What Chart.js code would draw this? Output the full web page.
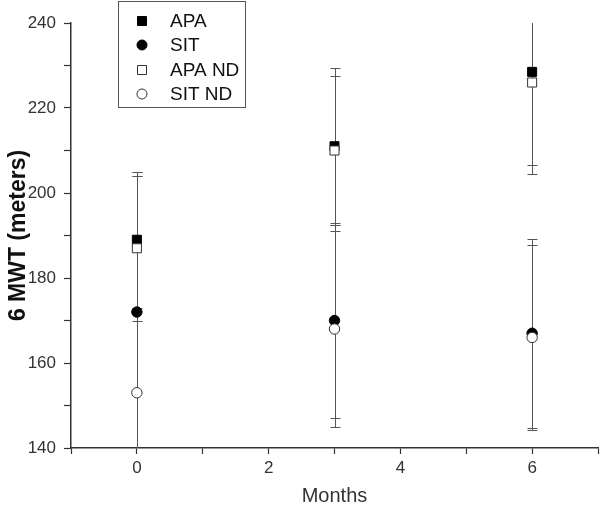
<!DOCTYPE html>
<html><head><meta charset="utf-8">
<script src="https://cdn.jsdelivr.net/npm/chart.js@4.4.1/dist/chart.umd.min.js"></script>
<style>html,body{margin:0;padding:0;background:#fff}</style>
</head><body>
<canvas id="c" width="600" height="512"></canvas>
<script>
const months = [0, 3, 6];
const seriesNames = ['APA', 'SIT', 'APA ND', 'SIT ND'];
const apa = [189, 211, 228.5];
const apaErr = [16, 18.5, 22];
const sit = [172, 170, 167];
const sitErr = [33, 23, 22.2];
const apaNd = [187, 210, 226];
const apaNdErr = [17, 17.5, 21.5];
const sitNd = [153, 168, 166];
const sitNdErr = [51, 23, 21.7];
const xTicks = [0, 2, 4, 6];
const yTicks = [140, 160, 180, 200, 220, 240];

const FONT = '"Liberation Sans", Arial, sans-serif';
const pts = vals => vals.map((v, i) => ({x: months[i], y: v}));

function mkDs(label, vals, errs, style, filled, order) {
  return {
    label, data: pts(vals), errors: errs,
    pointStyle: style,
    pointRadius: style === 'rect' ? 6.4 : 5.2,
    pointHoverRadius: style === 'rect' ? 6.4 : 5.2,
    backgroundColor: filled ? '#000' : '#fff',
    borderColor: filled ? '#000' : '#333',
    borderWidth: 1,
    showLine: false,
    order
  };
}

const errorBars = {
  id: 'errorBars',
  beforeDatasetsDraw(chart) {
    const {ctx, chartArea, scales: {x, y}} = chart;
    ctx.save();
    ctx.beginPath();
    ctx.rect(chartArea.left, chartArea.top, chartArea.width, chartArea.height);
    ctx.clip();
    ctx.strokeStyle = '#555';
    ctx.lineWidth = 1;
    chart.data.datasets.forEach(ds => {
      ds.data.forEach((p, i) => {
        const e = ds.errors[i];
        const px = Math.round(x.getPixelForValue(p.x)) + 0.5;
        const yt = Math.round(y.getPixelForValue(p.y + e)) + 0.5;
        const yb = Math.round(y.getPixelForValue(p.y - e)) + 0.5;
        ctx.beginPath();
        ctx.moveTo(px, yt); ctx.lineTo(px, yb);
        ctx.moveTo(px - 5, yt); ctx.lineTo(px + 5, yt);
        ctx.moveTo(px - 5, yb); ctx.lineTo(px + 5, yb);
        ctx.stroke();
      });
    });
    ctx.restore();
  }
};

const boxLegend = {
  id: 'boxLegend',
  afterDraw(chart) {
    const ctx = chart.ctx;
    ctx.save();
    ctx.strokeStyle = '#555';
    ctx.lineWidth = 1;
    ctx.strokeRect(118.5, 1.5, 127, 106);
    const rows = [21, 45, 70, 94];
    seriesNames.forEach((name, i) => {
      const ds = chart.data.datasets.find(d => d.label === name);
      const cx = 142, cy = rows[i];
      ctx.fillStyle = ds.backgroundColor;
      ctx.strokeStyle = ds.borderColor;
      ctx.lineWidth = 1;
      ctx.beginPath();
      if (ds.pointStyle === 'rect') {
        ctx.rect(cx - 4.5, cy - 4.5, 9, 9);
      } else {
        ctx.arc(cx, cy, 5, 0, Math.PI * 2);
      }
      ctx.fill();
      ctx.stroke();
      ctx.fillStyle = '#111';
      ctx.font = '19px ' + FONT;
      ctx.textBaseline = 'middle';
      ctx.textAlign = 'left';
      ctx.fillText(name, 170, cy + 1);
    });
    ctx.restore();
  }
};

new Chart(document.getElementById('c'), {
  type: 'scatter',
  data: {
    datasets: [
      mkDs('APA', apa, apaErr, 'rect', true, 1),
      mkDs('SIT', sit, sitErr, 'circle', true, 1),
      mkDs('APA ND', apaNd, apaNdErr, 'rect', false, 0),
      mkDs('SIT ND', sitNd, sitNdErr, 'circle', false, 0)
    ]
  },
  options: {
    responsive: false,
    animation: false,
    layout: {autoPadding: false, padding: {top: 23, right: 2, left: 0, bottom: 0}},
    plugins: {legend: {display: false}, tooltip: {enabled: false}},
    scales: {
      x: {
        type: 'linear', min: -1, max: 7,
        afterFit(s) { s.height = 64; s.paddingRight = 0; s.paddingLeft = 0; },
        ticks: {
          stepSize: 1,
          autoSkip: false,
          maxRotation: 0,
          padding: 4,
          color: '#333',
          font: {family: FONT, size: 17},
          callback: v => xTicks.includes(v) ? String(v) : ''
        },
        grid: {drawOnChartArea: false, tickLength: 6, color: '#333', tickWidth: 1.2},
        border: {color: '#333', width: 1.5},
        title: {display: true, text: 'Months', color: '#333', font: {family: FONT, size: 20}, padding: {top: 6}}
      },
      y: {
        type: 'linear', min: 140, max: 240,
        afterFit(s) { s.width = 71; s.paddingTop = 0; s.paddingBottom = 0; },
        ticks: {
          stepSize: 10,
          autoSkip: false,
          padding: 8,
          color: '#333',
          font: {family: FONT, size: 17},
          callback: v => yTicks.includes(v) ? String(v) : ''
        },
        grid: {drawOnChartArea: false, tickLength: 7, color: '#333', tickWidth: 1.2},
        border: {color: '#333', width: 1.5},
        title: {display: true, text: '6 MWT (meters)', color: '#111', font: {family: FONT, size: 23, weight: 'bold'}, padding: {top: 5, bottom: 0}}
      }
    }
  },
  plugins: [errorBars, boxLegend]
});
</script>
</body></html>
